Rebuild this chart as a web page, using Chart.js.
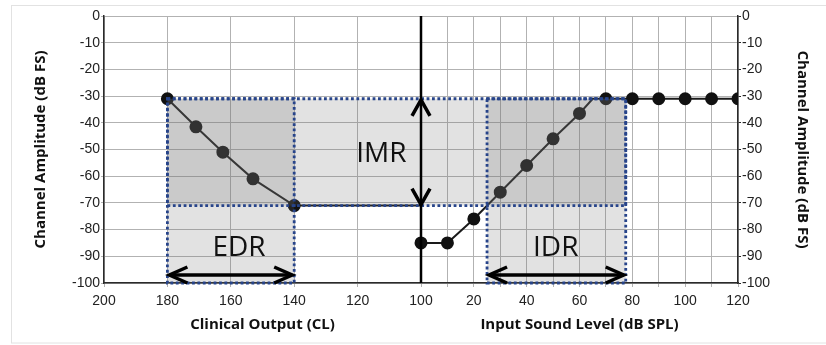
<!DOCTYPE html>
<html>
<head>
<meta charset="utf-8">
<script src="https://cdn.jsdelivr.net/npm/chart.js@4.4.0/dist/chart.umd.min.js"></script>
<style>
  html, body { margin: 0; padding: 0; background: #fff; }
  #wrap { width: 826px; height: 345px; }
</style>
</head>
<body>
<div id="wrap"><canvas id="chart" width="826" height="345"></canvas></div>
<script>
// left half: clinical output (CL), axis runs 200 -> 100
var clinicalLevels = [180, 171, 162.5, 153, 140, 100];
var clinicalAmps = [-31, -41.5, -51, -61, -71, -71];
var clinicalRadius = [5.5, 5.5, 5.5, 5.5, 5.5, 0];

// right half: input sound level (dB SPL), axis runs 0 -> 120
var inputLevels = [0, 10, 20, 30, 40, 50, 60, 65, 70, 80, 90, 100, 110, 120];
var inputAmps = [-85, -85, -76, -66, -56, -46, -36.5, -31, -31, -31, -31, -31, -31, -31];
var inputRadius = [5.5, 5.5, 5.5, 5.5, 5.5, 5.5, 5.5, 0, 5.5, 5.5, 5.5, 5.5, 5.5, 5.5];

var clTicks = [200, 180, 160, 140, 120];
var splTicks = [0, 10, 20, 30, 40, 50, 60, 70, 80, 90, 100, 110, 120];
var splLabels = ['100', '', '20', '', '40', '', '60', '', '80', '', '100', '', '120'];

// ranges drawn as shaded boxes
var edrRange = [180, 140];   // CL
var idrRange = [25, 77.5];   // dB SPL
var imrLevels = [-31, -71];  // dB FS
var floorLevel = -100;
var arrowLevel = -97;

// both halves share one linear axis, 0..10
function clToU(cl) { return (200 - cl) / 20; }
function splToU(spl) { return 5 + spl / 24; }

var xTickValues = [];
var xTickLabels = [];
clTicks.forEach(function (c) { xTickValues.push(clToU(c)); xTickLabels.push(String(c)); });
splTicks.forEach(function (s, i) { xTickValues.push(splToU(s)); xTickLabels.push(splLabels[i]); });

var tickFont = { family: 'Liberation Sans', size: 14 };
var titleFont = { family: 'Open Sans', size: 15, weight: 'bold' };
var gridColor = '#b2b2b2';
var axisColor = '#2a2a2a';

var overlay = {
  id: 'overlay',
  beforeDraw: function (chart) {
    var ctx = chart.ctx;
    ctx.save();
    ctx.fillStyle = '#fff';
    ctx.fillRect(0, 0, chart.width, chart.height);
    ctx.strokeStyle = '#e2e2e2';
    ctx.lineWidth = 1;
    ctx.strokeRect(11.5, 5.5, 900, 337.5);
    ctx.restore();
  },
  afterDatasetsDraw: function (chart) {
    var ctx = chart.ctx;
    var x = chart.scales.x, y = chart.scales.y;
    function rect(u0, u1, v0, v1) {
      var a = x.getPixelForValue(u0), b = x.getPixelForValue(u1);
      var c = y.getPixelForValue(v0), d = y.getPixelForValue(v1);
      return [a, c, b - a, d - c];
    }
    var boxes = [
      rect(clToU(edrRange[0]), splToU(idrRange[1]), imrLevels[0], imrLevels[1]),
      rect(clToU(edrRange[0]), clToU(edrRange[1]), imrLevels[0], floorLevel),
      rect(splToU(idrRange[0]), splToU(idrRange[1]), imrLevels[0], floorLevel)
    ];
    ctx.save();
    ctx.fillStyle = 'rgba(110,110,110,0.2)';
    boxes.forEach(function (r) { ctx.fillRect(r[0], r[1], r[2], r[3]); });
    ctx.strokeStyle = '#27448a';
    ctx.lineWidth = 2.8;
    ctx.setLineDash([2.8, 2.6]);
    boxes.forEach(function (r) { ctx.strokeRect(r[0], r[1], r[2], r[3]); });
    ctx.setLineDash([]);

    // divider line between the halves
    var mid = x.getPixelForValue(5);
    ctx.strokeStyle = '#000';
    ctx.lineWidth = 2.5;
    ctx.beginPath();
    ctx.moveTo(mid, chart.chartArea.top);
    ctx.lineTo(mid, chart.chartArea.bottom);
    ctx.stroke();

    function head(px, py, dx, dy) {
      // open chevron, tip at px,py pointing along dx,dy
      ctx.beginPath();
      if (dx !== 0) {
        ctx.moveTo(px - dx * 18, py - 8);
        ctx.lineTo(px, py);
        ctx.lineTo(px - dx * 18, py + 8);
      } else {
        ctx.moveTo(px - 9, py - dy * 16);
        ctx.lineTo(px, py);
        ctx.lineTo(px + 9, py - dy * 16);
      }
      ctx.stroke();
    }
    ctx.lineWidth = 3.5;
    ctx.lineCap = 'butt';
    ctx.lineJoin = 'miter';
    // IMR arrow
    var t = y.getPixelForValue(imrLevels[0]), bt = y.getPixelForValue(imrLevels[1]);
    head(mid, t + 1, 0, -1);
    head(mid, bt - 1, 0, 1);
    // EDR and IDR arrows
    var ay = y.getPixelForValue(arrowLevel);
    [[clToU(edrRange[0]), clToU(edrRange[1])], [splToU(idrRange[0]), splToU(idrRange[1])]].forEach(function (p) {
      var a = x.getPixelForValue(p[0]) + 2, b = x.getPixelForValue(p[1]) - 2;
      ctx.beginPath();
      ctx.moveTo(a, ay);
      ctx.lineTo(b, ay);
      ctx.stroke();
      head(a, ay, -1, 0);
      head(b, ay, 1, 0);
    });

    // range labels
    ctx.fillStyle = '#111';
    ctx.font = '28px "Open Sans"';
    ctx.textAlign = 'center';
    ctx.textBaseline = 'alphabetic';
    ctx.fillText('EDR', x.getPixelForValue(clToU(157.4)), y.getPixelForValue(-86) + 10);
    ctx.fillText('IMR', x.getPixelForValue(clToU(112.5)), y.getPixelForValue(-51) + 10);
    ctx.fillText('IDR', x.getPixelForValue(splToU(51)), y.getPixelForValue(-86) + 10);

    // the two x axis titles
    ctx.font = 'bold 15px "Open Sans"';
    ctx.fillText('Clinical Output (CL)', x.getPixelForValue(2.5), 329);
    ctx.fillText('Input Sound Level (dB SPL)', x.getPixelForValue(7.5), 329);
    ctx.restore();
  }
};

var ctx = document.getElementById('chart');
var chart = new Chart(ctx, {
  type: 'line',
  data: {
    datasets: [{
      data: clinicalLevels.map(function (c, i) { return { x: clToU(c), y: clinicalAmps[i] }; }),
      borderColor: '#1a1a1a',
      borderWidth: 2,
      pointRadius: clinicalRadius,
      pointBackgroundColor: '#111',
      pointBorderColor: '#111',
      tension: 0
    }, {
      data: inputLevels.map(function (s, i) { return { x: splToU(s), y: inputAmps[i] }; }),
      borderColor: '#1a1a1a',
      borderWidth: 2,
      pointRadius: inputRadius,
      pointBackgroundColor: '#111',
      pointBorderColor: '#111',
      tension: 0
    }]
  },
  options: {
    responsive: false,
    animation: false,
    layout: { padding: { left: 0, right: 0, top: 16, bottom: 0 } },
    plugins: { legend: { display: false }, tooltip: { enabled: false } },
    scales: {
      x: {
        type: 'linear',
        min: 0,
        max: 10,
        afterBuildTicks: function (scale) {
          scale.ticks = xTickValues.map(function (v) { return { value: v }; });
        },
        afterFit: function (scale) { scale.height = 62; },
        ticks: {
          autoSkip: false,
          maxRotation: 0,
          padding: 6,
          color: '#222',
          font: tickFont,
          callback: function (value, index) { return xTickLabels[index]; }
        },
        grid: { color: gridColor, tickLength: 4 },
        border: { color: axisColor, width: 1.5 }
      },
      y: {
        position: 'left',
        min: -100,
        max: 0,
        afterFit: function (scale) { scale.width = 104; },
        ticks: { stepSize: 10, padding: 1, color: '#222', font: tickFont },
        grid: { color: gridColor, tickLength: 3 },
        border: { color: axisColor, width: 1.5 },
        title: { display: true, text: 'Channel Amplitude (dB FS)', font: titleFont, color: '#111', padding: { top: 32, bottom: 0 } }
      },
      y2: {
        position: 'right',
        min: -100,
        max: 0,
        afterFit: function (scale) { scale.width = 88; },
        ticks: { stepSize: 10, padding: 1, color: '#222', font: tickFont },
        grid: { drawOnChartArea: false, color: axisColor, tickLength: 3 },
        border: { color: axisColor, width: 1.5 },
        title: { display: true, text: 'Channel Amplitude (dB FS)', font: titleFont, color: '#111', padding: { top: 15, bottom: 0 } }
      }
    }
  },
  plugins: [overlay]
});
</script>
</body>
</html>
